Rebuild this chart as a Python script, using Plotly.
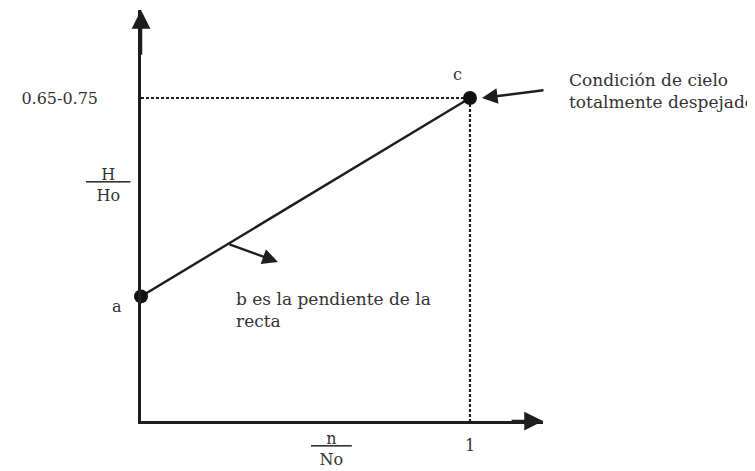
import plotly.graph_objects as go

# Data (normalised sunshine n/No vs. clearness index H/Ho)
x_points = [0, 1]                 # n/No at points a and c
y_points = [0.27, 0.70]           # H/Ho at points a and c
point_labels = ["a", "c"]
x_tick_vals = [1]
x_tick_text = ["1"]
y_tick_vals = [0.70]
y_tick_text = ["0.65-0.75"]

X_MAX = 1.222
Y_MAX = 0.8907

INK = "#1e1e1e"
TXT = "#333333"
SERIF = "DejaVu Serif, Liberation Serif, serif"


def px(x):
    return x / X_MAX


def py(y):
    return y / Y_MAX


fig = go.Figure()

# dashed guides to point c
fig.add_trace(go.Scatter(x=[x_points[0], x_points[1], x_points[1]],
                         y=[y_points[1], y_points[1], 0],
                         mode="lines",
                         line=dict(color=INK, width=2.2, dash="3px,2px"),
                         hoverinfo="skip", showlegend=False))
# straight line a-c
fig.add_trace(go.Scatter(x=x_points, y=y_points, mode="lines",
                         line=dict(color=INK, width=2.4),
                         hoverinfo="skip", showlegend=False))
# points
fig.add_trace(go.Scatter(x=x_points, y=y_points, mode="markers",
                         marker=dict(color="#111111", size=14),
                         cliponaxis=False,
                         hoverinfo="skip", showlegend=False))

ann = []
# axis arrows
ann.append(dict(x=0, y=Y_MAX, ax=0, ay=Y_MAX - 0.1, xref="x", yref="y",
                axref="x", ayref="y", showarrow=True, arrowhead=2,
                arrowsize=1.5, arrowwidth=2.5, arrowcolor=INK, text=""))
ann.append(dict(x=X_MAX, y=0, ax=X_MAX - 0.1, ay=0, xref="x", yref="y",
                axref="x", ayref="y", showarrow=True, arrowhead=2,
                arrowsize=1.5, arrowwidth=2.5, arrowcolor=INK, text=""))
# arrow to c
ann.append(dict(x=1.0365, y=0.70, ax=1.228, ay=0.7173, xref="x", yref="y",
                axref="x", ayref="y", showarrow=True, arrowhead=2,
                arrowsize=1.3, arrowwidth=2.4, arrowcolor=INK, text=""))
# slope arrow
ann.append(dict(x=0.4164, y=0.3446, ax=0.2644, ay=0.3837, xref="x", yref="y",
                axref="x", ayref="y", showarrow=True, arrowhead=2,
                arrowsize=1.3, arrowwidth=2.4, arrowcolor=INK, text=""))

font = dict(family=SERIF, size=17, color=TXT)
sfont = dict(family=SERIF, size=16, color=TXT)
common = dict(showarrow=False, xref="paper", yref="paper", yanchor="middle")
sp3 = "&nbsp;" * 3
ann.append(dict(x=px(-0.073), y=py(0.249), text=point_labels[0],
                xanchor="center", font=sfont, **common))
ann.append(dict(x=px(0.9635), y=py(0.75), text=point_labels[1],
                xanchor="center", font=sfont, **common))
ann.append(dict(x=px(1.2948), y=py(0.715), text="Condición de cielo<br>totalmente despejado",
                xanchor="left", align="left", font=font, **common))
ann.append(dict(x=px(0.2827), y=py(0.2406), text="b es la pendiente de la<br>recta",
                xanchor="left", align="left", font=font, **common))
ann.append(dict(x=px(-0.1003), y=py(0.5115), text="<u>" + sp3 + "H" + sp3 + "</u><br>Ho",
                xanchor="center", font=sfont, **common))
ann.append(dict(x=px(0.5805), y=py(-0.0607), text="<u>" + sp3 + "n" + sp3 + "</u><br>No",
                xanchor="center", font=sfont, **common))

# page body has an 8px margin; compensate so the drawing lands where intended
fig.update_layout(
    width=747, height=463,
    margin=dict(l=133, r=212, t=2, b=50),
    paper_bgcolor="white", plot_bgcolor="white",
    annotations=ann,
    xaxis=dict(range=[0, X_MAX], showgrid=False, zeroline=False,
               showline=True, linecolor=INK, linewidth=2.5,
               tickvals=x_tick_vals, ticktext=x_tick_text,
               ticks="outside", ticklen=8, tickcolor="rgba(0,0,0,0)",
               tickfont=sfont, fixedrange=True),
    yaxis=dict(range=[0, Y_MAX], showgrid=False, zeroline=False,
               showline=True, linecolor=INK, linewidth=2.5,
               tickvals=y_tick_vals, ticktext=y_tick_text,
               ticks="outside", ticklen=37, tickcolor="rgba(0,0,0,0)",
               tickfont=sfont, fixedrange=True),
    showlegend=False,
)

fig.write_html("out.html")
